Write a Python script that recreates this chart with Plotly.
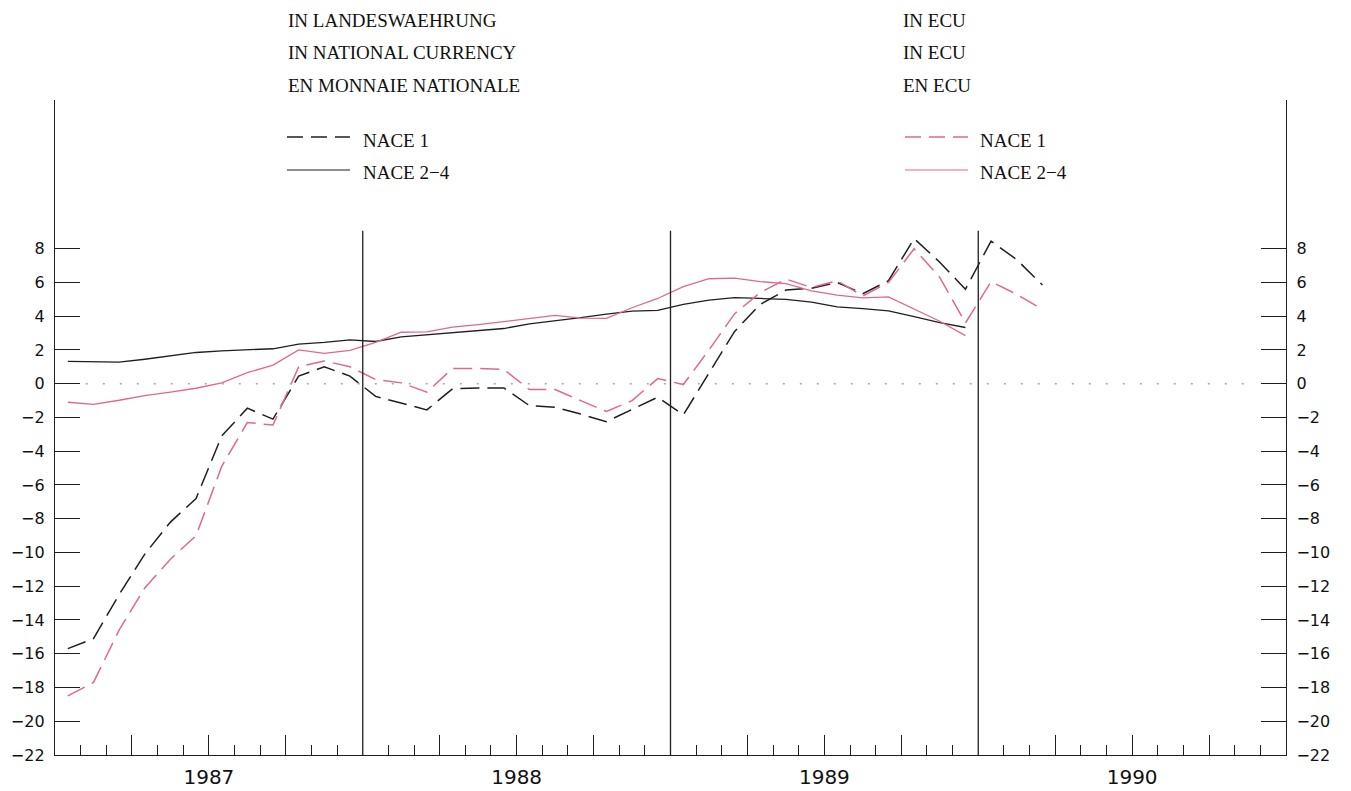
import plotly.graph_objs as go

# months Jan 1987 .. Mar 1990, points sit in the middle of each month
START_YEAR = 1987
YEARS = [1987, 1988, 1989, 1990]

# NACE 1, national currency (Jan 1987 - Mar 1990)
nace1_nat = [-15.7, -15.1, -12.5, -10.1, -8.2, -6.8, -3.1, -1.45, -2.1, 0.45, 1.0, 0.45,
             -0.75, -1.15, -1.55, -0.3, -0.25, -0.25, -1.3, -1.4, -1.8, -2.25, -1.55, -0.8,
             -1.85, 0.6, 3.1, 4.7, 5.55, 5.65, 6.0, 5.33, 6.1, 8.6, 7.2, 5.6,
             8.45, 7.35, 5.85]
# NACE 1, ECU
nace1_ecu = [-18.5, -17.7, -14.6, -12.1, -10.4, -9.0, -4.9, -2.3, -2.45, 1.0, 1.35, 1.0,
             0.25, 0.05, -0.5, 0.9, 0.9, 0.85, -0.35, -0.35, -1.0, -1.65, -1.0, 0.3,
             -0.05, 2.0, 4.15, 5.4, 6.2, 5.7, 6.1, 5.2, 6.0, 8.0, 6.3, 3.6,
             6.05, 5.3, 4.4]
# NACE 2-4, national currency (Jan 1987 - Dec 1989)
nace24_nat = [1.32, 1.28, 1.28, 1.45, 1.67, 1.85, 1.95, 2.02, 2.07, 2.35, 2.45, 2.6,
              2.5, 2.77, 2.9, 3.0, 3.15, 3.27, 3.55, 3.72, 3.92, 4.12, 4.3, 4.35,
              4.7, 4.95, 5.1, 5.05, 5.0, 4.84, 4.55, 4.45, 4.32, 3.98, 3.62, 3.33]
# NACE 2-4, ECU
nace24_ecu = [-1.1, -1.22, -0.98, -0.7, -0.5, -0.27, 0.05, 0.65, 1.1, 2.0, 1.8, 1.97,
              2.45, 3.05, 3.07, 3.35, 3.5, 3.68, 3.89, 4.05, 3.88, 3.87, 4.5, 5.05,
              5.75, 6.22, 6.25, 6.05, 5.93, 5.5, 5.25, 5.08, 5.15, 4.4, 3.7, 2.85]

Y_TICKS = list(range(-22, 9, 2))

BLACK = "#1f1f1f"
PINK = "#e3668f"
DASH = "19px,8px"


def month_x(values):
    return [START_YEAR + (i + 0.5) / 12 for i in range(len(values))]


W, H = 1351, 791
# plot area in pixels (used to place header/legend text)
PL, PR, PT, PB = 55, 1286, 100, 755


def px(x):
    return (x - PL) / (PR - PL)


def py(y):
    return (PB - y) / (PB - PT)


fig = go.Figure()
fig.add_trace(go.Scatter(x=month_x(nace1_nat), y=nace1_nat, mode="lines",
                         line=dict(color=BLACK, width=1.5, dash=DASH)))
fig.add_trace(go.Scatter(x=month_x(nace24_nat), y=nace24_nat, mode="lines",
                         line=dict(color=BLACK, width=1.3)))
fig.add_trace(go.Scatter(x=month_x(nace1_ecu), y=nace1_ecu, mode="lines", yaxis="y2",
                         line=dict(color=PINK, width=1.5, dash=DASH)))
fig.add_trace(go.Scatter(x=month_x(nace24_ecu), y=nace24_ecu, mode="lines", yaxis="y2",
                         line=dict(color=PINK, width=1.3)))

# tick positions: quarters long, months short
quarters = [y + q for y in YEARS for q in (0.25, 0.5, 0.75)]
qtext = [str(y) if q == 0.5 else "" for y in YEARS for q in (0.25, 0.5, 0.75)]
months = [y + m / 12 for y in YEARS for m in range(1, 12) if m % 3 != 0]

shapes = []
# year separators
for y in YEARS[1:]:
    shapes.append(dict(type="line", xref="x", yref="y", x0=y, x1=y, y0=-22, y1=9.07,
                       line=dict(color=BLACK, width=1.3)))
# dotted zero line
shapes.append(dict(type="line", xref="x", yref="y", x0=1987.1, x1=1990.9, y0=0, y1=0,
                   line=dict(color="#a8a8a8", width=1.5, dash="2px,15px")))

# header text and legend keys
annotations = []
text_font = dict(family="Liberation Serif", size=19, color="#111111")
header = [
    (286, ["IN LANDESWAEHRUNG", "IN NATIONAL CURRENCY", "EN MONNAIE NATIONALE"]),
    (901, ["IN ECU", "IN ECU", "EN ECU"]),
]
for x0, lines in header:
    for t, yy in zip(lines, [20, 52, 86]):
        annotations.append(dict(xref="paper", yref="paper", x=px(x0), y=py(yy), text=t,
                                showarrow=False, xanchor="left", yanchor="middle",
                                font=text_font))

keys = [
    (287, 361, BLACK),
    (905, 978, PINK),
]
for lx, tx, col in keys:
    shapes.append(dict(type="line", xref="paper", yref="paper", x0=px(lx), x1=px(lx + 63),
                       y0=py(137), y1=py(137), line=dict(color=col, width=1.4, dash="16px,8px")))
    shapes.append(dict(type="line", xref="paper", yref="paper", x0=px(lx), x1=px(lx + 63),
                       y0=py(170), y1=py(170), line=dict(color=col, width=1.2)))
    for t, yy in [("NACE 1", 140), ("NACE 2\u22124", 172)]:
        annotations.append(dict(xref="paper", yref="paper", x=px(tx), y=py(yy), text=t,
                                showarrow=False, xanchor="left", yanchor="middle",
                                font=text_font))

yaxis_common = dict(
    range=[-22, 16.81], tickvals=Y_TICKS, ticks="inside", ticklen=25, tickwidth=1.4,
    tickcolor=BLACK, showline=True, linecolor=BLACK, linewidth=1.4, showgrid=False,
    zeroline=False, tickfont=dict(family="DejaVu Sans", size=16, color="#111111"),
    ticklabelstandoff=6, fixedrange=True, automargin=False,
)

fig.layout = go.Layout(
    width=W, height=H,
    margin=dict(l=PL, r=W - PR, t=PT, b=H - PB),
    paper_bgcolor="white", plot_bgcolor="white",
    showlegend=False,
    xaxis=dict(range=[1987, 1991], showline=True, linecolor=BLACK, linewidth=1.4,
               ticks="inside", tickvals=quarters, ticktext=qtext, ticklen=20,
               tickwidth=1.4, tickcolor=BLACK, showgrid=False, zeroline=False,
               minor=dict(tickvals=months, ticks="inside", ticklen=10, tickwidth=1.4,
                          tickcolor=BLACK, showgrid=False),
               tickfont=dict(family="DejaVu Sans", size=20, color="#111111"),
               ticklabelstandoff=4, automargin=False, fixedrange=True),
    yaxis=dict(**yaxis_common),
    yaxis2=dict(overlaying="y", side="right", **yaxis_common),
    shapes=shapes,
    annotations=annotations,
)

# drop the default 8px page margin so the figure fills the window exactly
fig.write_html("out.html", config={"displayModeBar": False},
               post_script="document.body.style.margin='0';document.body.style.overflow='hidden';")
